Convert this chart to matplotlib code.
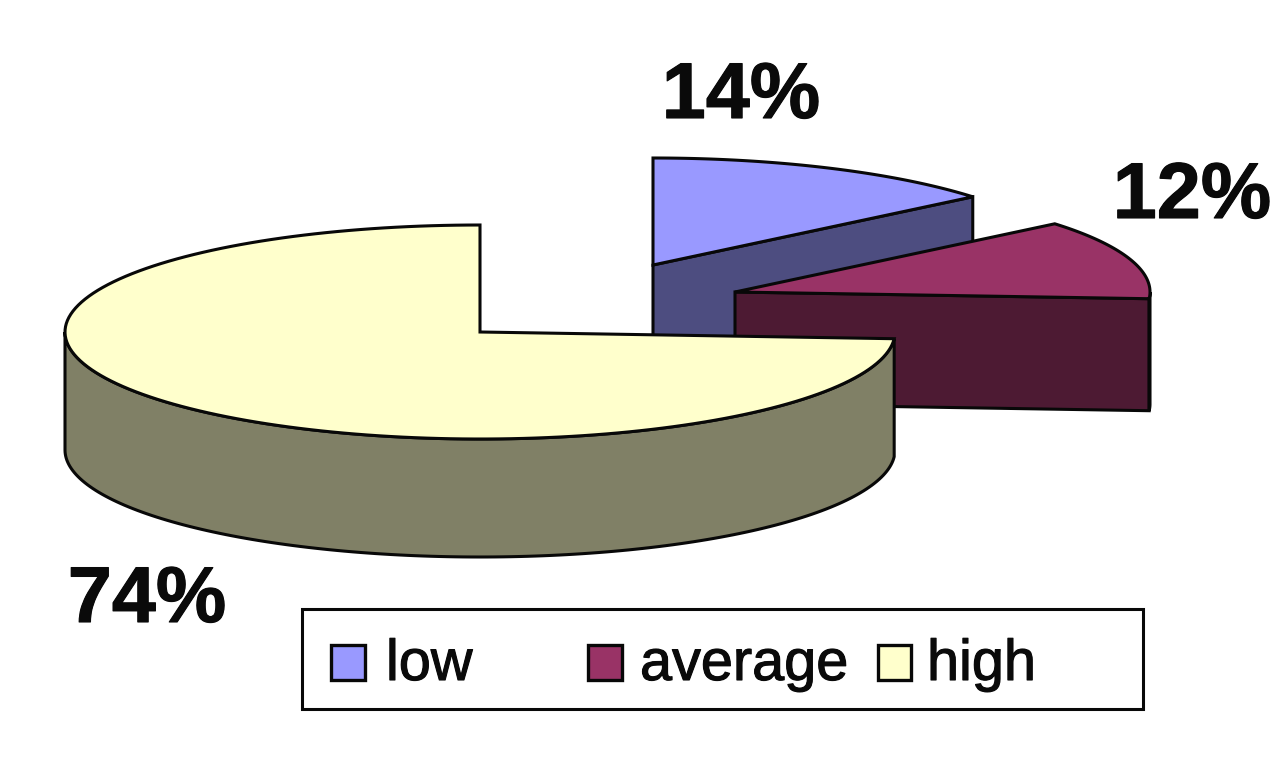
"""3D-look exploded pie chart, drawn by hand as projected wedges."""
import numpy as np
import matplotlib
matplotlib.use('Agg')
import matplotlib.pyplot as plt
import matplotlib.patheffects as pe
from matplotlib.patches import Polygon, Rectangle

categories = ['low', 'average', 'high']
values = [14, 12, 74]
labels = ['14%', '12%', '74%']
top_colors = ['#9999FF', '#993366', '#FFFFCC']
side_colors = ['#4D4D80', '#4D1A33', '#808066']

plt.rcParams['font.family'] = ['Liberation Sans', 'DejaVu Sans']

RX, RY = 415, 107
DEPTH = [115, 112, 118]
centers = [(653, 265), (735, 292), (480, 332)]
label_pos = [(741, 118), (1192, 218), (147, 622)]
legend_x = [(331, 386), (588, 640), (878, 927)]
legend_w = [34, 34, 33]


def arc(cx, cy, a0, a1, n=160):
    # angles are clockwise from 12 o'clock, in degrees
    t = np.radians(np.linspace(a0, a1, n))
    return np.column_stack([cx + RX*np.sin(t), cy - RY*np.cos(t)])


fig = plt.figure(figsize=(12.85, 7.64), dpi=100, facecolor='white')
ax = fig.add_axes([0, 0, 1, 1])
ax.set_xlim(0, 1285); ax.set_ylim(764, 0); ax.axis('off')

edge = dict(edgecolor='#080808', linewidth=2.2, joinstyle='miter')
angles = np.cumsum([0] + values) * 3.6

for i in range(len(values)):
    a0, a1 = angles[i], angles[i+1]
    cx, cy = centers[i]
    d = DEPTH[i]
    rim = arc(cx, cy, a0, a1)
    # cut face running from the centre to the clockwise end of the slice
    if i < 2:
        end = rim[-1]
        ax.add_patch(Polygon([(cx, cy), end, end+[0, d], (cx, cy+d)],
                             facecolor=side_colors[i], **edge))
    # outer wall, only the part on the front half of the ellipse
    lo, hi = max(a0, 90), min(a1, 270)
    if hi > lo:
        front = arc(cx, cy, lo, hi)
        wall = np.vstack([front, (front + [0, d])[::-1]])
        ax.add_patch(Polygon(wall, facecolor=side_colors[i], **edge))
    ax.add_patch(Polygon(np.vstack([[(cx, cy)], rim]), facecolor=top_colors[i], **edge))
    ax.text(label_pos[i][0], label_pos[i][1], labels[i], fontsize=57, fontweight='bold',
            color='#0a0a0a', ha='center', va='baseline',
            path_effects=[pe.withStroke(linewidth=0.8, foreground='#0a0a0a')])

# legend box
ax.add_patch(Rectangle((302, 609), 841, 100, facecolor='white', edgecolor='#080808', linewidth=2.2))
for i, name in enumerate(categories):
    ax.add_patch(Rectangle((legend_x[i][0], 645), legend_w[i], 35, facecolor=top_colors[i],
                           edgecolor='#080808', linewidth=2.4))
    ax.text(legend_x[i][1], 680, name, fontsize=41.5, color='#0a0a0a', ha='left', va='baseline',
            path_effects=[pe.withStroke(linewidth=0.8, foreground='#0a0a0a')])

fig.savefig('out.png', dpi=100)
